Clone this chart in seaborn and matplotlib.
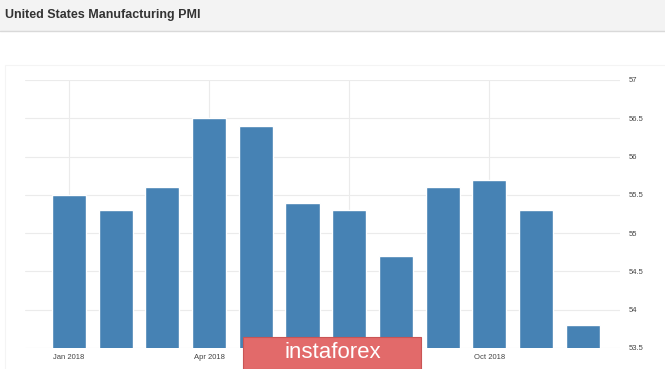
import seaborn as sns
import pandas as pd
import matplotlib.pyplot as plt
from matplotlib.patches import Rectangle

months = ["Jan", "Feb", "Mar", "Apr", "May", "Jun", "Jul", "Aug", "Sep", "Oct", "Nov", "Dec"]
pmi = [55.5, 55.3, 55.6, 56.5, 56.4, 55.4, 55.3, 54.7, 55.6, 55.7, 55.3, 53.8]
# Jul label sits under the watermark in the reference, so it is left blank
tick_labels = ["Jan 2018", "Apr 2018", "", "Oct 2018"]
y_ticks = [53.5, 54, 54.5, 55, 55.5, 56, 56.5, 57]

df = pd.DataFrame({"month": months, "pmi": pmi})

sns.set_style("white")
plt.rcParams["font.family"] = ["Liberation Sans", "DejaVu Sans"]

fig = plt.figure(figsize=(6.65, 3.69), dpi=100)
fig.patch.set_facecolor("white")

# header band
fig.patches.append(Rectangle((0, 1 - 31 / 369), 1, 31 / 369, transform=fig.transFigure,
                             facecolor="#f3f3f3", edgecolor="none", zorder=0))
fig.lines.append(plt.Line2D([0, 1], [1 - 31 / 369] * 2, transform=fig.transFigure,
                            color="#d9d9d9", lw=1))
fig.text(5 / 665, 1 - 15 / 369, "United States Manufacturing PMI", fontsize=9,
         fontweight="bold", color="#333333", va="center", ha="left")

# faint card border
fig.patches.append(Rectangle((5 / 665, -0.01), 1.0, 1 - 65 / 369 + 0.01, transform=fig.transFigure,
                             facecolor="none", edgecolor="#f4f4f4", lw=0.8, zorder=0))

ax = fig.add_axes([25 / 665, 1 - 348 / 369, 595 / 665, 268 / 369])
sns.barplot(data=df, x="month", y="pmi", order=months, color="#4682b4",
            width=0.73, saturation=1, ax=ax)

ax.set_ylim(53.5, 57)
ax.set_xlim(-0.943, 11.8)
ax.set_yticks(y_ticks)
ax.set_yticklabels([f"{v:g}" for v in y_ticks])
ax.yaxis.tick_right()
ax.set_xticks([0, 3, 6, 9])
ax.set_xticklabels(tick_labels)
ax.tick_params(axis="both", length=0, labelsize=5.5, labelcolor="#444444")
ax.tick_params(axis="y", pad=6)
ax.tick_params(axis="x", pad=4)
ax.set_xlabel("")
ax.set_ylabel("")
ax.grid(True, color="#ebebeb", lw=0.8)
ax.set_axisbelow(True)
for s in ax.spines.values():
    s.set_visible(False)

# watermark
fig.patches.append(Rectangle((243 / 665, 0), 178 / 665, 32 / 369, transform=fig.transFigure,
                             facecolor="#e26a6a", edgecolor="#c95555", lw=0.8, zorder=5))
fig.text(333 / 665, 16 / 369, "instaforex", fontsize=16, color="white",
         ha="center", va="center", zorder=6)

fig.savefig("out.png", dpi=100)
